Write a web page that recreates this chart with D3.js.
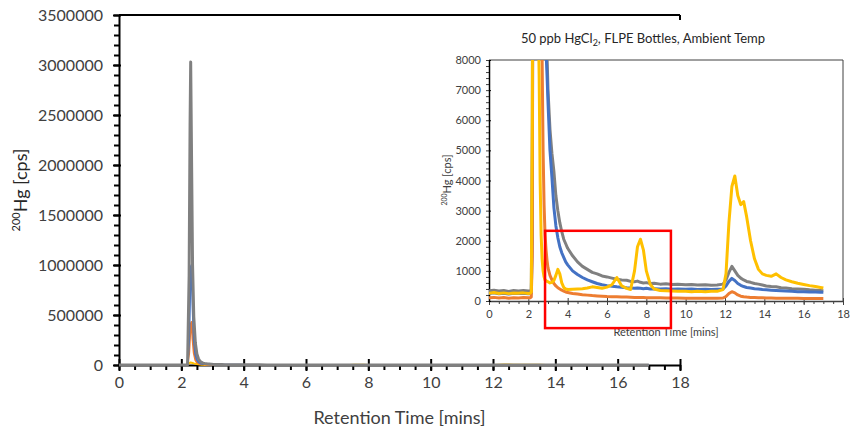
<!DOCTYPE html>
<html>
<head>
<meta charset="utf-8">
<script src="https://cdnjs.cloudflare.com/ajax/libs/d3/7.8.5/d3.min.js"></script>
<style>
body { margin: 0; background: #fff; }
text { font-family: Lato, "Open Sans", sans-serif; }
</style>
</head>
<body>
<div id="chart"></div>
<script>
// retention time (mins), shared by all four traces
var times = [
  0, 0.25, 0.5, 0.75, 1, 1.25, 1.5, 1.75, 2,
  2.1, 2.15, 2.2, 2.25, 2.28, 2.3, 2.33, 2.36, 2.4, 2.45,
  2.5, 2.55, 2.6, 2.65, 2.7, 2.75, 2.8, 2.85, 2.9, 2.95,
  3, 3.1, 3.2, 3.3, 3.4, 3.5, 3.6, 3.7, 3.8, 3.9,
  4, 4.25, 4.5, 4.75, 5, 5.25, 5.5, 5.75, 6, 6.25,
  6.5, 6.75, 7, 7.2, 7.4, 7.55, 7.7, 7.85, 8, 8.2,
  8.4, 8.7, 9, 9.3, 9.6, 10, 10.3, 10.6, 11, 11.3,
  11.6, 11.9, 12.05, 12.2, 12.35, 12.5, 12.65, 12.8, 12.95, 13.1,
  13.3, 13.5, 13.7, 13.9, 14.1, 14.35, 14.6, 14.85, 15.1, 15.4,
  15.7, 16, 16.3, 16.6, 16.85, 17
]

// 200Hg counts [cps]
var grayTrace = [
  340, 360, 330, 350, 320, 345, 335, 350, 330,
  340, 360, 5000, 900000, 2400000, 3030000, 2000000, 1000000, 480000, 220000,
  110000, 62000, 38000, 26000, 19000, 15000, 13000, 11000, 9500, 8200,
  7000, 5700, 4900, 4300, 3500, 3000, 2600, 2300, 2050, 1900,
  1750, 1500, 1300, 1150, 1050, 950, 900, 830, 800, 760,
  720, 700, 690, 650, 640, 660, 620, 600, 610, 580,
  590, 560, 570, 550, 560, 540, 550, 530, 540, 520,
  530, 560, 700, 950, 1150, 1000, 850, 760, 700, 650,
  620, 580, 560, 530, 500, 480, 470, 440, 430, 410,
  400, 390, 370, 360, 350, 340
]
var blueTrace = [
  250, 270, 240, 260, 230, 255, 245, 260, 240,
  250, 260, 2000, 250000, 700000, 980000, 1000000, 600000, 250000, 100000,
  50000, 28000, 18000, 13000, 11000, 9800, 9200, 8800, 8300, 7500,
  6600, 5000, 4100, 3100, 2500, 2100, 1800, 1600, 1450, 1300,
  1200, 1000, 880, 780, 700, 640, 580, 540, 510, 490,
  470, 460, 440, 430, 420, 430, 420, 410, 420, 400,
  410, 400, 410, 390, 400, 390, 400, 380, 390, 380,
  390, 400, 500, 650, 750, 680, 580, 520, 480, 450,
  430, 410, 400, 380, 370, 360, 350, 340, 330, 320,
  310, 310, 300, 300, 290, 290
]
var orangeTrace = [
  110, 120, 100, 115, 95, 110, 100, 115, 105,
  110, 130, 1500, 120000, 300000, 410000, 430000, 260000, 120000, 50000,
  25000, 15000, 11000, 9000, 8100, 5000, 3200, 2200, 1700, 1350,
  1100, 850, 700, 580, 500, 440, 400, 360, 330, 300,
  280, 250, 230, 210, 195, 180, 170, 160, 150, 145,
  140, 135, 130, 125, 120, 120, 115, 115, 110, 110,
  105, 105, 100, 100, 100, 95, 95, 95, 95, 95,
  95, 100, 150, 250, 310, 270, 200, 160, 140, 130,
  120, 115, 110, 105, 100, 100, 95, 95, 90, 90,
  90, 85, 85, 80, 80, 80
]
var yellowTrace = [
  260, 280, 250, 270, 245, 265, 255, 270, 250,
  260, 300, 6000, 18000, 24000, 25000, 23000, 20000, 16000, 12000,
  9500, 7500, 4000, 2200, 1400, 1000, 800, 700, 680, 650,
  640, 600, 620, 680, 850, 1050, 900, 600, 450, 400,
  380, 390, 400, 410, 430, 470, 450, 420, 460, 540,
  780, 500, 420, 380, 1000, 1800, 2050, 1700, 1000, 550,
  400, 350, 340, 330, 320, 320, 310, 320, 310, 320,
  320, 380, 900, 2600, 3800, 4150, 3500, 3200, 3300, 2800,
  2000, 1400, 1050, 900, 850, 820, 900, 780, 700, 640,
  590, 550, 510, 480, 450, 430
]

var xTicks = [0, 2, 4, 6, 8, 10, 12, 14, 16, 18]
var mainYTicks = [0, 500000, 1000000, 1500000, 2000000, 2500000, 3000000, 3500000]
var insetYTicks = [0, 1000, 2000, 3000, 4000, 5000, 6000, 7000, 8000]

// red highlight box on the inset (time range, counts range)
var boxTimes = [2.85, 9.25]
var boxCounts = [2330, -900]

var series = [
  {name: "gray", values: grayTrace, color: "#808080"},
  {name: "blue", values: blueTrace, color: "#4472C4"},
  {name: "orange", values: orangeTrace, color: "#ED7D31"},
  {name: "yellow", values: yellowTrace, color: "#FFC000"}
]
// draw order: yellow at the bottom, gray on top in the main chart
var mainOrder = [3, 2, 1, 0]
var insetOrder = [0, 1, 2, 3]

var svg = d3.select("#chart").append("svg")
  .attr("width", 850)
  .attr("height", 430)

// ---------- main chart ----------
var x = d3.scaleLinear().domain([0, 18]).range([119, 680])
var y = d3.scaleLinear().domain([0, 3500000]).range([365, 15])

var mainLine = d3.line()
  .x(function(d, i){ return x(times[i]) })
  .y(function(d){ return y(d) })

// top border
svg.append("line")
  .attr("x1", 119).attr("x2", 680)
  .attr("y1", y(3500000)).attr("y2", y(3500000))
  .attr("stroke", "#000").attr("stroke-width", 2)
svg.append("line")
  .attr("x1", 680).attr("x2", 680)
  .attr("y1", y(3500000)).attr("y2", y(3500000) + 5)
  .attr("stroke", "#000").attr("stroke-width", 2)

// minor ticks
svg.append("g")
  .attr("transform", "translate(0,365)")
  .call(d3.axisBottom(x).tickValues(d3.range(0, 18.01, 0.5)).tickSize(5).tickFormat(""))
  .call(function(g){ g.select(".domain").remove() })
  .selectAll("line").attr("stroke-width", 2)

svg.append("g")
  .attr("transform", "translate(119,0)")
  .call(d3.axisLeft(y).tickValues(d3.range(0, 3500001, 100000)).tickSize(5).tickFormat(""))
  .call(function(g){ g.select(".domain").remove() })
  .selectAll("line").attr("stroke-width", 2)

// major ticks + labels
var xAxis = svg.append("g")
  .attr("transform", "translate(0,365)")
  .call(d3.axisBottom(x).tickValues(xTicks).tickSize(6).tickPadding(6).tickSizeOuter(0))
xAxis.select(".domain").attr("stroke-width", 2)
xAxis.selectAll(".tick line").attr("y1", -6).attr("stroke-width", 2)
xAxis.selectAll("text").attr("font-size", 16).attr("fill", "#404040")
  .style("font-family", "Lato")

var yAxis = svg.append("g")
  .attr("transform", "translate(119,0)")
  .call(d3.axisLeft(y).tickValues(mainYTicks).tickSize(6).tickPadding(10).tickSizeOuter(0).tickFormat(d3.format("d")))
yAxis.select(".domain").attr("stroke-width", 2)
yAxis.selectAll(".tick line").attr("x1", -6).attr("x2", 2).attr("stroke-width", 2)
yAxis.selectAll("text").attr("font-size", 16).attr("fill", "#404040")
  .style("font-family", "Lato")

// traces
mainOrder.forEach(function(k){
  svg.append("path")
    .datum(series[k].values)
    .attr("d", mainLine)
    .attr("fill", "none")
    .attr("stroke", series[k].color)
    .attr("stroke-width", k == 0 ? 3 : 2)
    .attr("stroke-linejoin", "round")
})

// axis titles
svg.append("text")
  .attr("x", (119 + 680) / 2)
  .attr("y", 424)
  .attr("text-anchor", "middle")
  .attr("font-size", 18)
  .attr("fill", "#404040")
  .text("Retention Time [mins]")

var yTitle = svg.append("text")
  .attr("transform", "translate(27,190) rotate(-90)")
  .attr("text-anchor", "middle")
  .attr("font-size", 18)
  .attr("fill", "#262626")
yTitle.append("tspan").attr("font-size", 11).attr("dy", -7).text("200")
yTitle.append("tspan").attr("dy", 7).text("Hg [cps]")

// ---------- inset ----------
svg.append("rect")
  .attr("x", 440).attr("y", 20)
  .attr("width", 410).attr("height", 328)
  .attr("fill", "#fff")

var xi = d3.scaleLinear().domain([0, 18]).range([489, 843])
var yi = d3.scaleLinear().domain([0, 8000]).range([301, 60])

svg.append("clipPath").attr("id", "inset-clip")
  .append("rect")
  .attr("x", 489).attr("y", 60)
  .attr("width", 843 - 489).attr("height", 301 - 60)

// frame
svg.append("line")
  .attr("x1", 489).attr("x2", 843).attr("y1", 60).attr("y2", 60)
  .attr("stroke", "#404040").attr("stroke-width", 1)
svg.append("line")
  .attr("x1", 843).attr("x2", 843).attr("y1", 60).attr("y2", 301)
  .attr("stroke", "#404040").attr("stroke-width", 1)

svg.append("g")
  .attr("transform", "translate(0,301)")
  .call(d3.axisBottom(xi).tickValues(d3.range(0, 18.01, 0.5)).tickSize(3).tickFormat(""))
  .call(function(g){ g.select(".domain").remove() })
  .selectAll("line").attr("stroke", "#404040")

svg.append("g")
  .attr("transform", "translate(489,0)")
  .call(d3.axisLeft(yi).tickValues(d3.range(0, 8001, 200)).tickSize(3).tickFormat(""))
  .call(function(g){ g.select(".domain").remove() })
  .selectAll("line").attr("stroke", "#404040")

var xiAxis = svg.append("g")
  .attr("transform", "translate(0,301)")
  .call(d3.axisBottom(xi).tickValues(xTicks).tickSize(4).tickPadding(5).tickSizeOuter(0))
xiAxis.select(".domain").attr("stroke", "#404040").attr("stroke-width", 1.5)
xiAxis.selectAll(".tick line").attr("y1", -3).attr("stroke", "#404040")
xiAxis.selectAll("text").attr("font-size", 11).attr("fill", "#404040")
  .style("font-family", "Lato")

var yiAxis = svg.append("g")
  .attr("transform", "translate(489,0)")
  .call(d3.axisLeft(yi).tickValues(insetYTicks).tickSize(5).tickPadding(3).tickSizeOuter(0).tickFormat(d3.format("d")))
yiAxis.select(".domain").attr("stroke", "#000").attr("stroke-width", 1.5)
yiAxis.selectAll(".tick line").attr("x2", 2).attr("stroke", "#000")
yiAxis.selectAll("text").attr("font-size", 11).attr("fill", "#404040")
  .style("font-family", "Lato")

var insetLine = d3.line()
  .x(function(d, i){ return xi(times[i]) })
  .y(function(d){ return yi(Math.min(d, 20000)) })

var insetTraces = svg.append("g").attr("clip-path", "url(#inset-clip)")
insetOrder.forEach(function(k){
  insetTraces.append("path")
    .datum(series[k].values)
    .attr("d", insetLine)
    .attr("fill", "none")
    .attr("stroke", series[k].color)
    .attr("stroke-width", 3)
    .attr("stroke-linejoin", "round")
})

// inset titles
var insetTitle = svg.append("text")
  .attr("x", 643).attr("y", 43)
  .attr("text-anchor", "middle")
  .attr("font-size", 13)
  .attr("fill", "#262626")
insetTitle.append("tspan").text("50 ppb HgCl")
insetTitle.append("tspan").attr("font-size", 9).attr("dy", 3).text("2")
insetTitle.append("tspan").attr("dy", -3).text(", FLPE Bottles, Ambient Temp")

svg.append("text")
  .attr("x", (489 + 843) / 2).attr("y", 336)
  .attr("text-anchor", "middle")
  .attr("font-size", 11)
  .attr("fill", "#404040")
  .text("Retention Time [mins]")

var yiTitle = svg.append("text")
  .attr("transform", "translate(451,180) rotate(-90)")
  .attr("text-anchor", "middle")
  .attr("font-size", 11)
  .attr("fill", "#404040")
yiTitle.append("tspan").attr("font-size", 7).attr("dy", -4).text("200")
yiTitle.append("tspan").attr("dy", 4).text("Hg [cps]")

// red highlight box
svg.append("rect")
  .attr("x", xi(boxTimes[0]))
  .attr("y", yi(boxCounts[0]))
  .attr("width", xi(boxTimes[1]) - xi(boxTimes[0]))
  .attr("height", yi(boxCounts[1]) - yi(boxCounts[0]))
  .attr("fill", "none")
  .attr("stroke", "#FF0000")
  .attr("stroke-width", 2.5)
</script>
</body>
</html>
